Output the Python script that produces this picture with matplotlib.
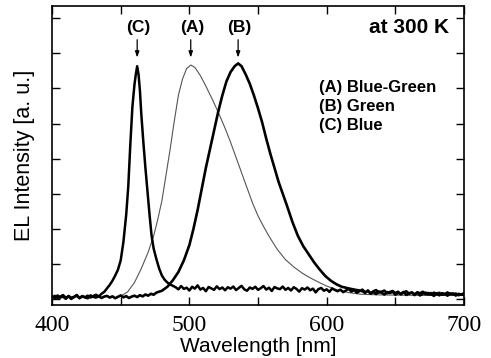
import numpy as np
import matplotlib
matplotlib.use("Agg")
from matplotlib import pyplot as plt

# (C) Blue : thick black, narrow peak near 462 nm
c_wl = [400, 402, 404, 406, 408, 410, 412, 414, 416, 418,
        420, 422, 424, 426, 428, 430, 432, 434, 436,
        438, 440, 442, 444, 446, 448, 450, 452, 454, 455.5,
        457, 458.5, 460, 461, 462, 463, 464, 465, 466.5, 468,
        469.5, 471, 472.5, 474, 476, 478, 480, 482, 484, 486, 488] + list(range(490, 702, 2))
c_val = [0.012, 0.004, 0.015, 0.006, 0.010, 0.000, 0.013, 0.005, 0.009, 0.017,
         0.003, 0.011, 0.007, 0.014, 0.006, 0.012, 0.018, 0.010, 0.022,
         0.030, 0.045, 0.060, 0.078, 0.100, 0.125, 0.165, 0.245, 0.360, 0.480,
         0.660, 0.820, 0.915, 0.960, 0.995, 0.960, 0.890, 0.790, 0.670, 0.560,
         0.460, 0.360, 0.270, 0.215, 0.170, 0.130, 0.100, 0.082, 0.070, 0.062, 0.056,
         0.050, 0.041, 0.055, 0.043, 0.048, 0.036, 0.052, 0.044, 0.058, 0.040,
         0.047, 0.033, 0.051, 0.045, 0.039, 0.054, 0.042, 0.049, 0.037, 0.050,
         0.044, 0.053, 0.038, 0.047, 0.056, 0.041, 0.035, 0.049, 0.043, 0.052,
         0.039, 0.046, 0.055, 0.040, 0.048, 0.034, 0.051, 0.045, 0.042, 0.053,
         0.039, 0.047, 0.036, 0.050, 0.043, 0.031, 0.046, 0.040, 0.049, 0.037,
         0.044, 0.028, 0.042, 0.047, 0.035, 0.041, 0.030, 0.045, 0.038, 0.033,
         0.040, 0.029, 0.036, 0.043, 0.031, 0.038, 0.026, 0.034, 0.040, 0.028,
         0.035, 0.022, 0.033, 0.038, 0.027, 0.031, 0.036, 0.024, 0.030, 0.034,
         0.025, 0.031, 0.019, 0.028, 0.033, 0.022, 0.027, 0.016, 0.029, 0.024,
         0.031, 0.020, 0.026, 0.018, 0.027, 0.023, 0.015, 0.025, 0.021, 0.028,
         0.019, 0.024, 0.014, 0.022, 0.018, 0.025]

# (B) Green : thick black, peak near 535 nm
b_wl = list(range(400, 480, 2)) + [
        480, 484, 488, 492, 496, 500, 503, 506, 509, 512,
        515, 518, 521, 524, 527, 530, 533, 535.5, 538, 541,
        544, 547, 550, 553, 556, 559, 562, 565, 568, 571,
        575, 579, 583, 587, 591, 595, 599, 603, 607, 611,
        616, 620, 624] + list(range(626, 702, 2))
b_val = [0.006, 0.013, 0.002, 0.010, 0.016, 0.005, 0.011, 0.000, 0.008, 0.014,
         0.004, 0.012, 0.007, 0.003, 0.015, 0.009, 0.006, 0.012, 0.004, 0.010,
         0.013, 0.006, 0.011, 0.003, 0.009, 0.015, 0.007, 0.012, 0.004, 0.010,
         0.014, 0.008, 0.016, 0.011, 0.019, 0.014, 0.022, 0.018, 0.027, 0.031,
         0.035, 0.052, 0.080, 0.115, 0.165, 0.230, 0.300, 0.380, 0.470, 0.560,
         0.640, 0.720, 0.800, 0.870, 0.930, 0.970, 0.995, 1.007, 0.995, 0.960,
         0.920, 0.870, 0.815, 0.755, 0.685, 0.620, 0.560, 0.500, 0.450, 0.400,
         0.330, 0.270, 0.225, 0.190, 0.155, 0.125, 0.098, 0.078, 0.063, 0.052,
         0.045, 0.040, 0.036,
         0.033, 0.026, 0.036, 0.024, 0.030, 0.021, 0.032, 0.027, 0.019, 0.029,
         0.025, 0.031, 0.018, 0.026, 0.022, 0.030, 0.017, 0.024, 0.028, 0.020,
         0.026, 0.015, 0.023, 0.027, 0.019, 0.025, 0.013, 0.022, 0.026, 0.018,
         0.021, 0.014, 0.024, 0.019, 0.023, 0.016, 0.020, 0.017]

# (A) Blue-Green : thin grey, broad peak near 500 nm
a_wl = [450, 455, 460, 465, 470, 474, 477, 480, 483, 486,
        489, 492, 495, 498, 501, 504, 508, 512, 517, 522,
        526, 530, 534, 538, 542, 546, 550, 554, 558, 564,
        570, 576, 582, 588, 594, 600, 608, 616, 625, 640,
        670, 700]
a_val = [0.012, 0.030, 0.070, 0.130, 0.200, 0.270, 0.340, 0.420, 0.530, 0.640,
         0.760, 0.870, 0.940, 0.985, 1.000, 0.990, 0.955, 0.910, 0.850, 0.785,
         0.730, 0.670, 0.605, 0.540, 0.475, 0.410, 0.355, 0.310, 0.268, 0.212,
         0.168, 0.137, 0.111, 0.090, 0.072, 0.055, 0.038, 0.027, 0.020, 0.017,
         0.015, 0.015]

peak_labels = ['(C)', '(A)', '(B)']
peak_pos = [462.0, 501.0, 535.5]
legend_lines = ['(A) Blue-Green', '(B) Green', '(C) Blue']

plt.rcParams['font.family'] = ['Liberation Sans', 'DejaVu Sans']

fig = plt.figure(figsize=(4.91, 3.58), dpi=100)
ax = fig.add_axes([0.106, 0.148, 0.839, 0.835])

ax.plot(c_wl, c_val, color='black', lw=1.8, zorder=3)
ax.plot(b_wl, b_val, color='black', lw=1.9, zorder=3)
ax.plot(a_wl, a_val, color='#555555', lw=0.8, zorder=2)

ax.set_xlim(400, 700)
ax.set_ylim(-0.026, 1.252)
ax.set_xticks(np.arange(400, 701, 50))
ax.set_xticklabels(['400', '', '500', '', '600', '', '700'],
                   fontfamily='Liberation Serif', fontsize=17)
ax.set_yticks(np.arange(0, 1.21, 0.15))
ax.set_yticklabels([])
ax.tick_params(direction='in', top=True, right=True, length=6, width=1, pad=7)
for s in ax.spines.values():
    s.set_linewidth(1.2)

ax.set_xlabel('Wavelength [nm]', fontsize=15, labelpad=1)
ax.set_ylabel('EL Intensity [a. u.]', fontsize=15.5, labelpad=5)

for lab, x in zip(peak_labels, peak_pos):
    ax.annotate('', xy=(x, 1.02), xytext=(x, 1.12),
                arrowprops=dict(arrowstyle='-|>,head_length=0.35,head_width=0.12',
                                color='black', lw=0.9))
    ax.text(x + 1, 1.16, lab, ha='center', va='center', fontsize=12.5,
            fontweight='bold')

ax.text(0.963, 0.927, 'at 300 K', transform=ax.transAxes, ha='right',
        va='center', fontsize=15, fontweight='bold')
for i, t in enumerate(legend_lines):
    ax.text(0.648, 0.728 - i * 0.063, t, transform=ax.transAxes, ha='left',
            va='center', fontsize=12, fontweight='bold')

fig.savefig('out.png', dpi=100)
